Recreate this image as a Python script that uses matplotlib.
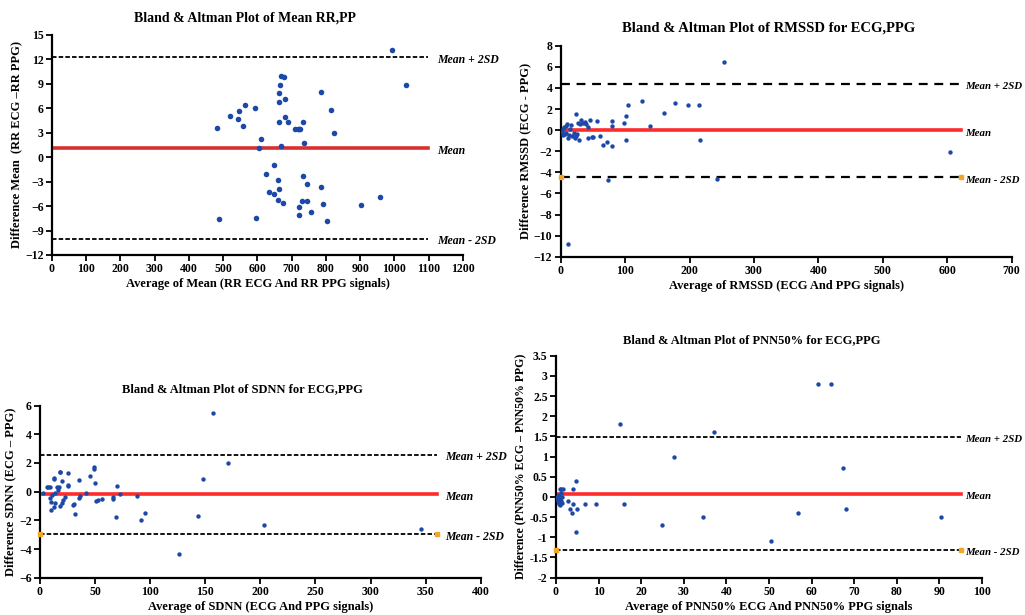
import matplotlib
matplotlib.use("Agg")
import matplotlib.pyplot as plt
from matplotlib.ticker import FuncFormatter

plt.rcParams['font.family'] = ['Liberation Serif', 'DejaVu Serif']
plt.rcParams['font.weight'] = 'bold'

# ---------------- Data ----------------
# Plot 1: Mean RR
rr_x = [994, 1035, 482, 521, 545, 543, 559, 564, 594, 611, 603, 662, 666, 669, 678,
        664, 680, 681, 688, 664, 668, 711, 717, 722, 725, 734, 737, 786, 815, 823,
        648, 624, 635, 649, 661, 664, 659, 674, 733, 746, 785, 729, 744, 720, 722,
        757, 790, 802, 903, 958, 487, 596]
rr_y = [13.1, 8.85, 3.6, 5.0, 5.65, 4.7, 3.84, 6.35, 6.1, 2.24, 1.13, 7.9, 8.85, 9.95, 9.83,
        6.75, 7.16, 4.95, 4.37, 4.29, 1.34, 3.47, 3.47, 3.47, 3.47, 4.33, 1.7, 8.0, 5.85, 2.98,
        -0.92, -2.1, -4.3, -4.5, -2.85, -3.96, -5.3, -5.64, -2.28, -3.3, -3.67, -5.35, -5.35, -6.05, -7.08,
        -6.7, -5.76, -7.86, -5.84, -4.94, -7.53, -7.45]
rr_mean, rr_up, rr_lo, rr_end = 1.1, 12.25, -10.0, 1099

# Plot 2: RMSSD
rm_x = [253, 127, 177, 197, 215, 104.5, 101, 161, 98, 80, 80, 139, 217, 101, 80, 65, 72, 61,
        605, 73, 242, 12, 23.8, 32, 27, 10.4, 45.5, 57, 40, 5, 3, 8, 42.4,
        6, 13, 20, 25, 12, 22, 28, 42.4, 48.6, 2, 15, 18, 35, 30, 50, 9, 4, 16, 24, 38]
rm_y = [6.45, 2.79, 2.57, 2.34, 2.34, 2.34, 1.33, 1.59, 0.64, 0.89, 0.39, 0.39, -0.94, -0.94, -1.51,
        -1.42, -1.1, -0.56, -2.11, -4.73, -4.64, -10.77, 1.5, 0.96, 0.64, 0.55, 0.96, 0.89, 0.58,
        0.3, 0.1, 0.4, 0.26, -0.35, -0.5, -0.3, -0.4, -0.78, -0.78, -0.94, -0.72, -0.62,
        -0.2, 0.1, -0.6, 0.7, 0.6, -0.65, -0.25, -0.5, 0.45, -0.55, 0.8]
rm_mean, rm_up, rm_lo, rm_end = -0.03, 4.37, -4.48, 622

# Plot 3: SDNN
sd_x = [156.6, 170.8, 148, 203.5, 346, 125.8, 143.6, 95.5, 91.6, 87.7, 69.5, 68.9, 72.6, 66.5, 66.5,
        49, 49, 50, 50.5, 53, 56, 45.6, 41.7, 35, 25, 25, 18, 31.7, 30, 10, 13, 19.6, 6, 9, 3,
        18.1, 13, 25.7, 15, 17, 7, 14, 9, 10, 13.6, 19.7, 22.7, 21, 18, 13, 31, 35, 36.5, 11, 16]
sd_y = [5.49, 2.02, 0.88, -2.3, -2.6, -4.37, -1.67, -1.47, -2.0, -0.28, 0.42, -1.77, -0.19, -0.35, -0.51,
        1.7, 1.6, 0.6, -0.67, -0.6, -0.5, 1.12, -0.07, 0.79, 1.3, 0.42, 1.4, -1.58, -0.9, -1.3,
        0.93, 0.77, 0.3, 0.3, -0.1, 1.39, 0.86, 0.47, 0.35, 0.35, 0.3, -0.1, -0.46, -0.7, -0.77,
        -0.81, -0.39, -0.6, -1.0, -1.05, -0.86, -0.46, -0.3, -0.2, 0.1]
sd_mean, sd_up, sd_lo, sd_end = -0.19, 2.58, -2.95, 360

# Plot 4: PNN50%
pn_x = [61.5, 64.6, 15, 37, 27.7, 67.4, 68.2, 90.5, 56.8, 50.5, 34.4, 24.8, 16, 9.3, 6.9,
        4.8, 4.1, 4.8, 5, 4.1, 3.8, 3.4, 2.8,
        0.3, 0.5, 0.6, 0.8, 1.0, 1.0, 1.2, 1.3, 1.5, 1.6, 0.9, 0.4, 1.1, 0.7, 1.4]
pn_y = [2.8, 2.8, 1.8, 1.62, 1.0, 0.71, -0.29, -0.5, -0.39, -1.09, -0.5, -0.7, -0.18, -0.18, -0.18,
        0.4, 0.2, -0.88, -0.29, -0.18, -0.39, -0.29, -0.09,
        0.0, -0.1, 0.05, -0.15, 0.2, -0.05, -0.1, 0.2, -0.15, 0.2, -0.2, -0.05, 0.1, -0.18, 0.0]
pn_mean, pn_up, pn_lo, pn_end = 0.08, 1.49, -1.32, 95

# ---------------- Figure ----------------
fig = plt.figure(figsize=(10.25, 6.15), dpi=100)

BLUE = '#1c48a8'
ORANGE = '#f5a623'


def style(ax, xlim, ylim, xticks, yticks, fmt=None):
    ax.set_xlim(*xlim)
    ax.set_ylim(*ylim)
    ax.set_xticks(xticks)
    ax.set_yticks(yticks)
    for s in ['top', 'right']:
        ax.spines[s].set_visible(False)
    for s in ['left', 'bottom']:
        ax.spines[s].set_linewidth(1.6)
    ax.tick_params(direction='out', length=4, width=1.3, labelsize=8.5, pad=2)
    if fmt:
        ax.yaxis.set_major_formatter(FuncFormatter(lambda v, p: ('%g' % v)))
    for lab in ax.get_xticklabels() + ax.get_yticklabels():
        lab.set_fontweight('bold')


def limits(ax, mean, up, lo, end, dash, dlw, mcol, labsize, off=6, lo_marks=False):
    ax.plot([0, end], [up, up], color='black', lw=dlw, ls=dash, zorder=2)
    ax.plot([0, end], [lo, lo], color='black', lw=dlw, ls=dash, zorder=2)
    ax.plot([0, end], [mean, mean], color=mcol, lw=2.6, zorder=2)
    if lo_marks:
        ax.plot([0, end], [lo, lo], ls='none', marker='s', ms=3, color=ORANGE,
                zorder=3, clip_on=False)
    for yv, t in [(up, 'Mean + 2SD'), (mean, 'Mean'), (lo, 'Mean - 2SD')]:
        ax.annotate(t, xy=(end, yv), xytext=(off, -2), textcoords='offset points',
                    ha='left', va='center', fontsize=labsize, fontweight='bold',
                    style='italic', annotation_clip=False)


# Plot 1
ax1 = fig.add_axes([0.0507, 0.5854, 0.401, 0.3577])
limits(ax1, rr_mean, rr_up, rr_lo, rr_end, (0, (2.5, 1.2)), 1.3, '#d8302e', 8.5)
ax1.scatter(rr_x, rr_y, s=16, color=BLUE, zorder=4, linewidths=0)
style(ax1, (0, 1200), (-12, 15), range(0, 1201, 100), range(-12, 16, 3))
ax1.set_title('Bland & Altman Plot of Mean RR,PP', fontsize=10, fontweight='bold', pad=10, x=0.47)
ax1.set_xlabel('Average of Mean (RR ECG And RR PPG signals)', fontsize=9, fontweight='bold', labelpad=2)
ax1.set_ylabel('Difference Mean  (RR ECG \u2013RR PPG)', fontsize=9, fontweight='bold', labelpad=2)

# Plot 2
ax2 = fig.add_axes([0.547, 0.5826, 0.44, 0.343])
limits(ax2, rm_mean, rm_up, rm_lo, rm_end, (0, (4, 3)), 1.6, '#ff2a2a', 7.8, off=3, lo_marks=True)
ax2.scatter(rm_x, rm_y, s=10, color=BLUE, zorder=4, linewidths=0)
style(ax2, (0, 700), (-12, 8), range(0, 701, 100), range(-12, 9, 2))
ax2.set_title('Bland & Altman Plot of RMSSD for ECG,PPG', fontsize=10.5, fontweight='bold', pad=10, x=0.46)
ax2.set_xlabel('Average of RMSSD (ECG And PPG signals)', fontsize=9, fontweight='bold', labelpad=2)
ax2.set_ylabel('Difference RMSSD (ECG - PPG)', fontsize=9, fontweight='bold', labelpad=2)

# Plot 3
ax3 = fig.add_axes([0.039, 0.0607, 0.430, 0.2797])
limits(ax3, sd_mean, sd_up, sd_lo, sd_end, (0, (2.5, 1.2)), 1.3, '#ff2a2a', 8.5, lo_marks=True)
ax3.scatter(sd_x, sd_y, s=10, color=BLUE, zorder=4, linewidths=0)
style(ax3, (0, 400), (-6, 6), range(0, 401, 50), range(-6, 7, 2))
ax3.set_title('Bland & Altman Plot of SDNN for ECG,PPG', fontsize=9, fontweight='bold', pad=10, x=0.46)
ax3.set_xlabel('Average of SDNN (ECG And PPG signals)', fontsize=9, fontweight='bold', labelpad=2)
ax3.set_ylabel('Difference SDNN (ECG \u2013 PPG)', fontsize=9, fontweight='bold', labelpad=2)

# Plot 4
ax4 = fig.add_axes([0.5424, 0.0607, 0.4156, 0.361])
limits(ax4, pn_mean, pn_up, pn_lo, pn_end, (0, (2.5, 1.2)), 1.3, '#ff2a2a', 7.8, off=3, lo_marks=True)
ax4.scatter(pn_x, pn_y, s=10, color=BLUE, zorder=4, linewidths=0)
style(ax4, (0, 100), (-2, 3.5), range(0, 101, 10), [-2 + 0.5 * i for i in range(12)], fmt=True)
ax4.set_title('Bland & Altman Plot of PNN50% for ECG,PPG', fontsize=9, fontweight='bold', pad=9, x=0.46)
ax4.set_xlabel('Average of PNN50% ECG And PNN50% PPG signals', fontsize=9, fontweight='bold', labelpad=2)
ax4.set_ylabel('Difference (PNN50% ECG \u2013 PNN50% PPG)', fontsize=8.5, fontweight='bold', labelpad=2)
for lab in ax4.get_yticklabels():
    lab.set_fontweight('bold')

fig.savefig('out.png', dpi=100)
